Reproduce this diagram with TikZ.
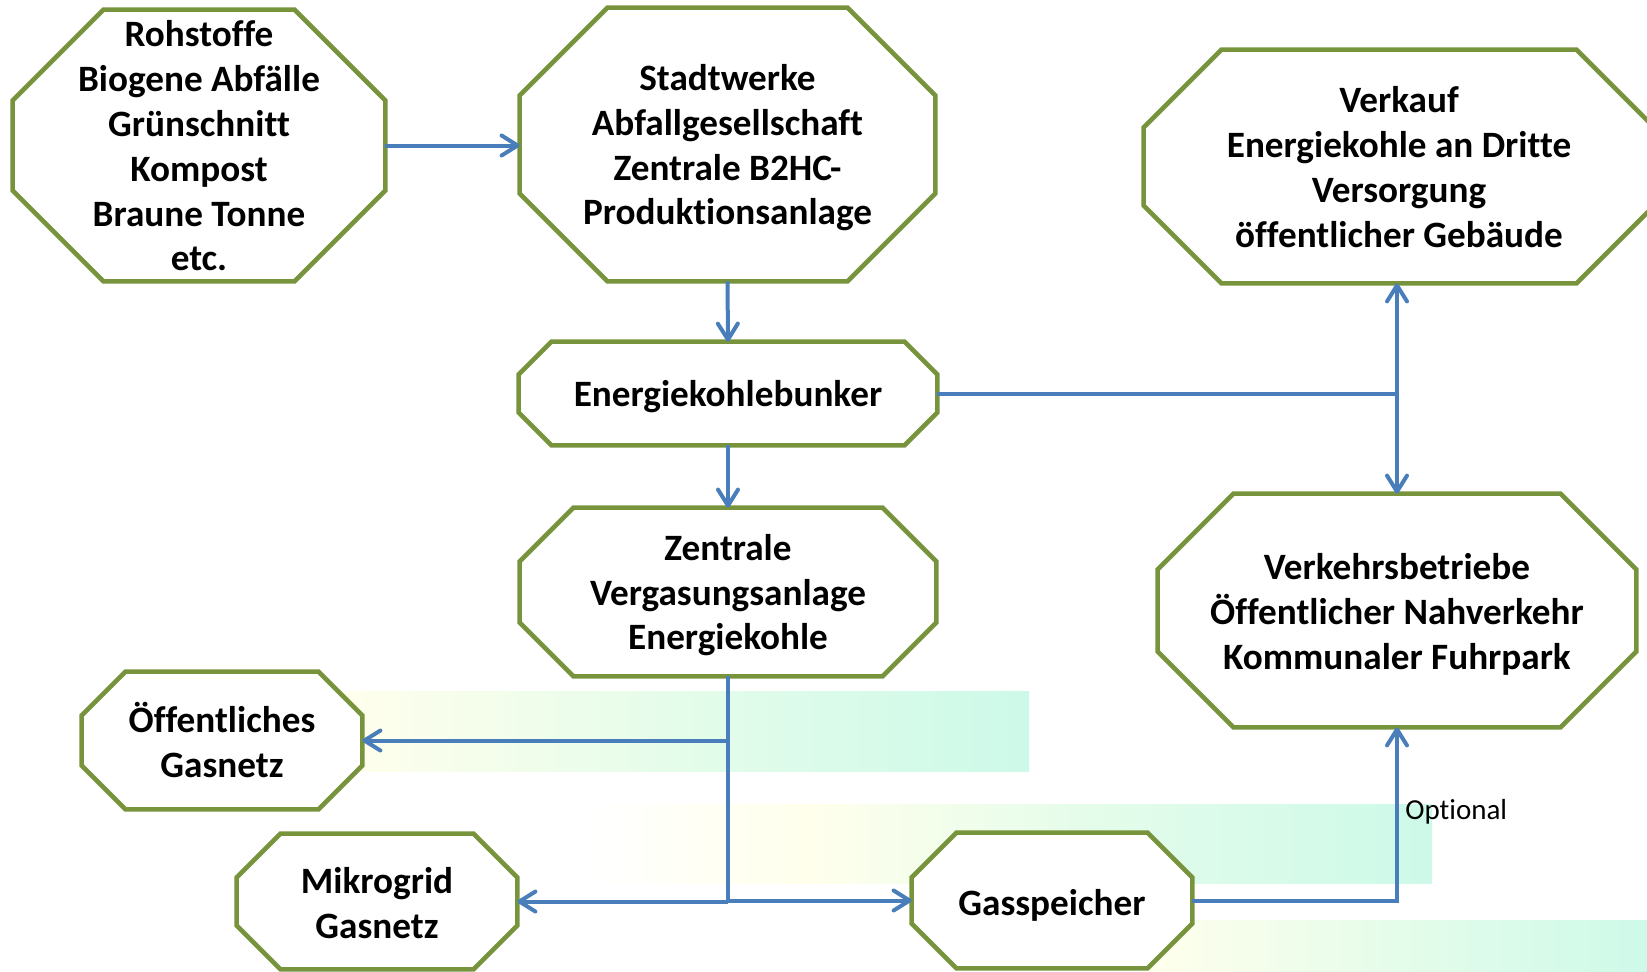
\documentclass[tikz,border=0pt]{standalone}
\usepackage{fontspec}
\setmainfont{Carlito}[Ligatures=NoCommon]
\usetikzlibrary{arrows.meta,calc}
\definecolor{boxgreen}{RGB}{119,147,60}
\definecolor{lineblue}{RGB}{74,126,187}
\definecolor{bandY}{RGB}{255,255,236}
\definecolor{bandG}{RGB}{228,252,234}
\definecolor{bandM}{RGB}{205,249,233}
\pgfdeclarelayer{back}\pgfdeclarelayer{mid}\pgfsetlayers{back,mid,main}
\pgfdeclarehorizontalshading{bandshadeA}{100bp}{color(0bp)=(bandY); color(25bp)=(bandY); color(50bp)=(bandG); color(75bp)=(bandM); color(100bp)=(bandM)}
\pgfdeclarehorizontalshading{bandshadeB}{100bp}{color(0bp)=(white); color(25bp)=(white); color(38bp)=(bandY); color(55bp)=(bandG); color(75bp)=(bandM); color(100bp)=(bandM)}
\tikzset{
  boxshape/.style={inner sep=0pt},
  boxtext/.style={align=center, inner sep=0pt, text=black, font=\fontsize{18.6}{22.4}\selectfont\bfseries},
  boxline/.style={draw=boxgreen, line width=2.3pt, fill=white, line join=miter},
  conn/.style={draw=lineblue, line width=2pt},
  arr/.style={conn, -{Straight Barb[length=8pt,width=10pt,round]}},
  darr/.style={conn, {Straight Barb[length=8pt,width=10pt,round]}-{Straight Barb[length=8pt,width=10pt,round]}},
  optlabel/.style={inner sep=0pt, text=black, font=\fontsize{14.5}{17}\selectfont}
}
% name, cx, cy, w, h, chamfer, text shift down (px), text
\newcommand\octbox[8]{%
  \node[boxshape, minimum width=#4*0.5pt, minimum height=#5*0.5pt] (#1) at (#2,#3) {};
  \node[boxtext] (#1-t) at ([yshift=-#7*0.5pt]#1.center) {#8};
  \begin{pgfonlayer}{mid}
  \draw[boxline] ([xshift=#6*0.5pt]#1.north west) -- ([xshift=-#6*0.5pt]#1.north east)
    -- ([yshift=-#6*0.5pt]#1.north east) -- ([yshift=#6*0.5pt]#1.south east)
    -- ([xshift=-#6*0.5pt]#1.south east) -- ([xshift=#6*0.5pt]#1.south west)
    -- ([yshift=#6*0.5pt]#1.south west) -- ([yshift=-#6*0.5pt]#1.north west) -- cycle;
  \end{pgfonlayer}}
\begin{document}
\begin{tikzpicture}[x=0.5pt, y=-0.5pt]
\useasboundingbox (0,0) rectangle (1647,971);
% background bands
\begin{pgfonlayer}{back}
\shade[shading=bandshadeA] (344,691) rectangle (1029,771);
\shade[shading=bandshadeB] (590,804) rectangle (1432,883);
\shade[shading=bandshadeA] (1150,920) rectangle (1660,975);
\end{pgfonlayer}
% boxes
\octbox{roh}{199}{145.5}{372}{271}{91}{0.5}{Rohstoffe\\Biogene Abfälle\\Grünschnitt\\Kompost\\Braune Tonne\\etc.}
\octbox{stadt}{727.5}{144.5}{415}{273}{88}{3.2}{Stadtwerke\\Abfallgesellschaft\\Zentrale B2HC-\\Produktionsanlage}
\octbox{verkauf}{1399}{166.5}{510}{233}{78}{0.6}{Verkauf\\Energiekohle an Dritte\\Versorgung\\öffentlicher Gebäude}
\octbox{bunker}{728}{393.5}{418}{103}{33}{3.2}{Energiekohlebunker}
\octbox{zentrale}{728}{592}{416}{168}{54}{3.2}{Zentrale\\Vergasungsanlage\\Energiekohle}
\octbox{verkehr}{1397}{610.5}{478}{233}{76}{3.6}{Verkehrsbetriebe\\Öffentlicher Nahverkehr\\Kommunaler Fuhrpark}
\octbox{oeff}{222}{740.5}{280}{137}{44}{-0.6}{Öffentliches\\Gasnetz}
\octbox{mikro}{377}{901.5}{280}{135}{44}{1.2}{Mikrogrid\\Gasnetz}
\octbox{gas}{1052}{900.5}{280}{135}{45}{5}{Gasspeicher}
% connectors
\draw[arr] (roh.east) -- (roh.east -| stadt.west);
\draw[arr] (stadt.south) -- (bunker.north);
\draw[arr] (bunker.south) -- (zentrale.north);
\coordinate (j1) at (verkehr.north |- bunker.east);
\draw[conn] (bunker.east) -- (j1);
\draw[darr] (verkehr.north |- verkauf.south) -- (verkehr.north);
\coordinate (j2) at (zentrale.south |- mikro.east);
\draw[conn] (zentrale.south) -- (j2);
\draw[arr] (zentrale.south |- oeff.east) -- (oeff.east);
\draw[arr] (j2) -- (mikro.east);
\draw[arr] (j2 |- gas.west) -- (gas.west);
\draw[arr] (gas.east) -| (verkehr.south);
\node[optlabel, anchor=base west] (opt) at (1405,819) {Optional};
\end{tikzpicture}
\end{document}
